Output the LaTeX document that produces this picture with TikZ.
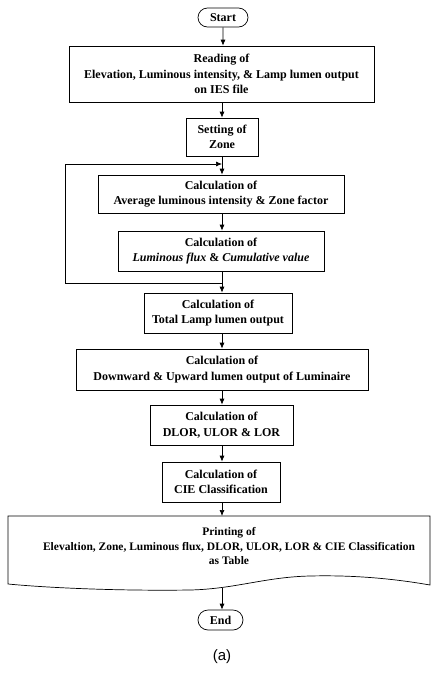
\documentclass[tikz,border=0pt]{standalone}
\usepackage{fontspec}
\setmainfont{Liberation Serif}
\newfontfamily\captionfont{Liberation Sans}
\usetikzlibrary{arrows.meta,shapes.misc}
\begin{document}
\begin{tikzpicture}[x=1pt,y=-1pt,
  every node/.style={font=\bfseries\fontsize{12}{15.5}\selectfont},
  proc/.style={draw, line width=0.7pt, align=center, inner sep=0pt},
  term/.style={draw, rounded rectangle, line width=0.7pt, inner sep=0pt,
               minimum height=19pt},
  flow/.style={line width=0.7pt, -{Latex[length=6pt,width=5pt]}},
  line/.style={line width=0.7pt}]
\useasboundingbox (0,0) rectangle (432,675);

% terminators and process steps
\node[term, minimum width=50pt] (start) at (223,17.5) {Start};
\node[proc, minimum width=305pt, minimum height=56pt] (read) at (221.5,74)
  {Reading of\\Elevation, Luminous intensity, \& Lamp lumen output\\on IES file};
\node[proc, minimum width=72pt, minimum height=38pt] (zone) at (222,137)
  {Setting of\\Zone};
\node[proc, minimum width=246pt, minimum height=38pt] (avg) at (221,194)
  {Calculation of\\Average luminous intensity \& Zone factor};
\node[proc, minimum width=206pt, minimum height=40pt] (flux) at (221,251)
  {Calculation of\\\textit{Luminous flux} \& \textit{Cumulative value}};
\node[proc, minimum width=148pt, minimum height=40pt] (total) at (218,313)
  {Calculation of\\Total Lamp lumen output};
\node[proc, minimum width=292pt, minimum height=41pt] (dulo) at (222,369.5)
  {Calculation of\\Downward \& Upward lumen output of Luminaire};
\node[proc, minimum width=143pt, minimum height=40pt] (lor) at (221.5,425)
  {Calculation of\\DLOR, ULOR \& LOR};
\node[proc, minimum width=118pt, minimum height=40pt] (cie) at (221,482)
  {Calculation of\\CIE Classification};

% document-shaped output step with wavy bottom edge
\draw[line] (8,516) -- (430,516) -- (430,585)
  .. controls (390,578) and (350,575) .. (310,576)
  .. controls (265,577) and (235,589) .. (190,590)
  .. controls (120,591) and (50,588) .. (8,584) -- cycle;
\node[align=center, inner sep=0pt, font=\bfseries\fontsize{11.5}{14.5}\selectfont]
  (print) at (229,546)
  {Printing of\\Elevaltion, Zone, Luminous flux, DLOR, ULOR, LOR \& CIE Classification\\as Table};
\coordinate (ptop) at (222,516);
\coordinate (pbot) at (222,587.5);

\node[term, minimum width=45pt, minimum height=20pt] (end) at (220.5,620) {End};
\node[font=\captionfont\fontsize{15}{18}\selectfont] (cap) at (222,657) {(a)};

% loop junctions
\coordinate (jtop) at (222,164);
\coordinate (jbot) at (222,283);
\coordinate (loopT) at (65,164);
\coordinate (loopB) at (65,283);

% connectors
\draw[flow] (start) -- (start |- read.north);
\draw[flow] (read.south -| zone) -- (zone.north);
\draw[flow] (zone.south) -- (zone.south |- avg.north);
\draw[flow] (jbot) -- (loopB) -- (loopT) -- (jtop);
\draw[flow] (avg.south -| zone) -- (zone |- flux.north);
\draw[flow] (flux.south -| zone) -- (zone |- total.north);
\draw[flow] (total.south -| zone) -- (zone |- dulo.north);
\draw[flow] (dulo.south -| zone) -- (zone |- lor.north);
\draw[flow] (lor.south -| zone) -- (zone |- cie.north);
\draw[flow] (cie.south -| zone) -- (ptop);
\draw[flow] (pbot) -- (pbot |- end.north);
\end{tikzpicture}
\end{document}
